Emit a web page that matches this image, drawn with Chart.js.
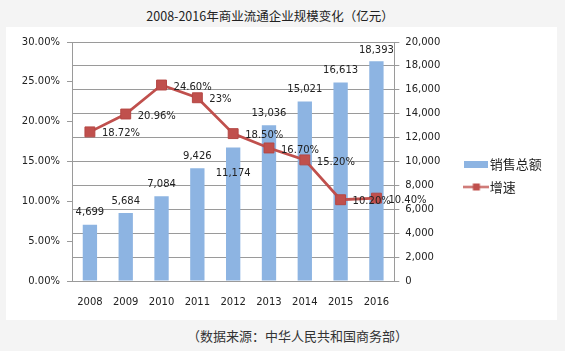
<!DOCTYPE html>
<html>
<head>
<meta charset="utf-8">
<script src="https://cdn.jsdelivr.net/npm/chart.js@4.4.1/dist/chart.umd.min.js"></script>
<style>
  html, body { margin: 0; padding: 0; width: 565px; height: 351px; overflow: hidden; background: #f4f4f4; }
  #title   { position: absolute; left: 0; top: 7px; width: 540px; text-align: center;
             font: 12.5px "Noto Sans CJK SC"; line-height: 17px; color: #222; }
  #panel   { position: absolute; left: 6px; top: 27px; width: 551px; height: 293px; background: #fff; }
  #caption { position: absolute; left: 0; top: 327px; width: 595px; text-align: center;
             font: 13px "Noto Sans CJK SC"; line-height: 17px; color: #333; }
</style>
</head>
<body>
<div id="title">2008-2016年商业流通企业规模变化（亿元）</div>
<div id="panel"><canvas id="chart" width="551" height="293"></canvas></div>
<div id="caption">（数据来源：中华人民共和国商务部）</div>

<script>
const years       = ['2008','2009','2010','2011','2012','2013','2014','2015','2016'];
const sales       = [4699, 5684, 7084, 9426, 11174, 13036, 15021, 16613, 18393];
const growth      = [18.72, 20.96, 24.60, 23, 18.50, 16.70, 15.20, 10.20, 10.40];
const growthText  = ['18.72%','20.96%','24.60%','23%','18.50%','16.70%','15.20%','10.20%','10.40%'];
const seriesNames = ['销售总额', '增速'];

// label nudges (px) for the bar values, 2012 sits inside its bar in the original
const barLabelDy  = [-12, -12, -12, -12, 26, -12, -12, -12, -11];

const BAR_COLOR  = '#8db4e2';
const LINE_COLOR = '#c0504d';
const AXIS_COLOR = '#9a9a9a';
const TEXT_COLOR = '#222';
const NUM_FONT   = { family: '"DejaVu Sans"', size: 10 };
const CJK_FONT   = { family: '"Noto Sans CJK SC"', size: 13 };

function makeIcon(w, h, draw) {
  const c = document.createElement('canvas');
  c.width = w; c.height = h;
  draw(c.getContext('2d'));
  return c;
}

const barIcon = makeIcon(24, 7, g => {
  g.fillStyle = BAR_COLOR;
  g.fillRect(0, 0, 24, 7);
});
const lineIcon = makeIcon(26, 9, g => {
  g.strokeStyle = LINE_COLOR;
  g.lineWidth = 2;
  g.beginPath(); g.moveTo(0, 4.5); g.lineTo(26, 4.5); g.stroke();
  g.fillStyle = LINE_COLOR;
  g.fillRect(9.5, 1, 7, 7);
});

const valueLabels = {
  id: 'valueLabels',
  afterDatasetsDraw(chart) {
    const ctx = chart.ctx;
    ctx.save();
    ctx.font = '10px "DejaVu Sans"';
    ctx.fillStyle = TEXT_COLOR;
    ctx.textBaseline = 'middle';

    ctx.textAlign = 'center';
    chart.getDatasetMeta(0).data.forEach((bar, i) => {
      ctx.fillText(sales[i].toLocaleString('en-US'), bar.x, bar.y + barLabelDy[i]);
    });

    ctx.textAlign = 'left';
    chart.getDatasetMeta(1).data.forEach((pt, i) => {
      ctx.fillText(growthText[i], pt.x + 12, pt.y + 2);
    });
    ctx.restore();
  }
};

new Chart(document.getElementById('chart'), {
  data: {
    labels: years,
    datasets: [
      {
        type: 'bar', label: seriesNames[0], data: sales, yAxisID: 'yVal', order: 1,
        backgroundColor: BAR_COLOR, borderWidth: 0,
        barPercentage: 0.4, categoryPercentage: 1,
      },
      {
        type: 'line', label: seriesNames[1], data: growth, yAxisID: 'yPct', order: 0,
        borderColor: LINE_COLOR, borderWidth: 2.75, tension: 0,
        pointStyle: 'rect', pointRadius: 7, pointBackgroundColor: LINE_COLOR,
        pointBorderColor: '#b54744', pointBorderWidth: 1,
      },
    ],
  },
  options: {
    responsive: false,
    animation: false,
    devicePixelRatio: 1,
    layout: { padding: { left: 0, right: 7, top: 4, bottom: 0 } },
    plugins: {
      tooltip: { enabled: false },
      legend: {
        position: 'right',
        labels: {
          usePointStyle: true,
          pointStyleWidth: 14,
          padding: 10,
          color: TEXT_COLOR,
          font: CJK_FONT,
          generateLabels: chart => chart.data.datasets.map((ds, i) => ({
            text: ds.label,
            pointStyle: i === 0 ? barIcon : lineIcon,
            fillStyle: i === 0 ? BAR_COLOR : LINE_COLOR,
            strokeStyle: i === 0 ? BAR_COLOR : LINE_COLOR,
            lineWidth: 0,
            hidden: false,
            datasetIndex: i,
            fontColor: TEXT_COLOR,
          })),
        },
      },
    },
    scales: {
      x: {
        offset: true,
        grid: { display: false, drawTicks: false },
        border: { color: AXIS_COLOR },
        ticks: { color: TEXT_COLOR, font: NUM_FONT, padding: 15, maxRotation: 0 },
        afterFit: s => { s.height = 39; },
      },
      yPct: {
        position: 'left',
        min: 0, max: 30,
        grid: { drawOnChartArea: false, tickLength: 5, color: AXIS_COLOR },
        border: { color: AXIS_COLOR },
        ticks: { stepSize: 5, color: TEXT_COLOR, font: NUM_FONT, padding: 7,
                 callback: v => v.toFixed(2) + '%' },
        afterFit: s => { s.width = 66; s.paddingTop = 15; },
      },
      yVal: {
        position: 'right',
        min: 0, max: 20000,
        grid: { tickLength: 5, color: AXIS_COLOR },
        border: { color: AXIS_COLOR },
        ticks: { stepSize: 2000, color: TEXT_COLOR, font: NUM_FONT, padding: 6,
                 callback: v => v.toLocaleString('en-US') },
        afterFit: s => { s.width = 65; s.paddingTop = 15; },
      },
    },
  },
  plugins: [valueLabels],
});
</script>
</body>
</html>
